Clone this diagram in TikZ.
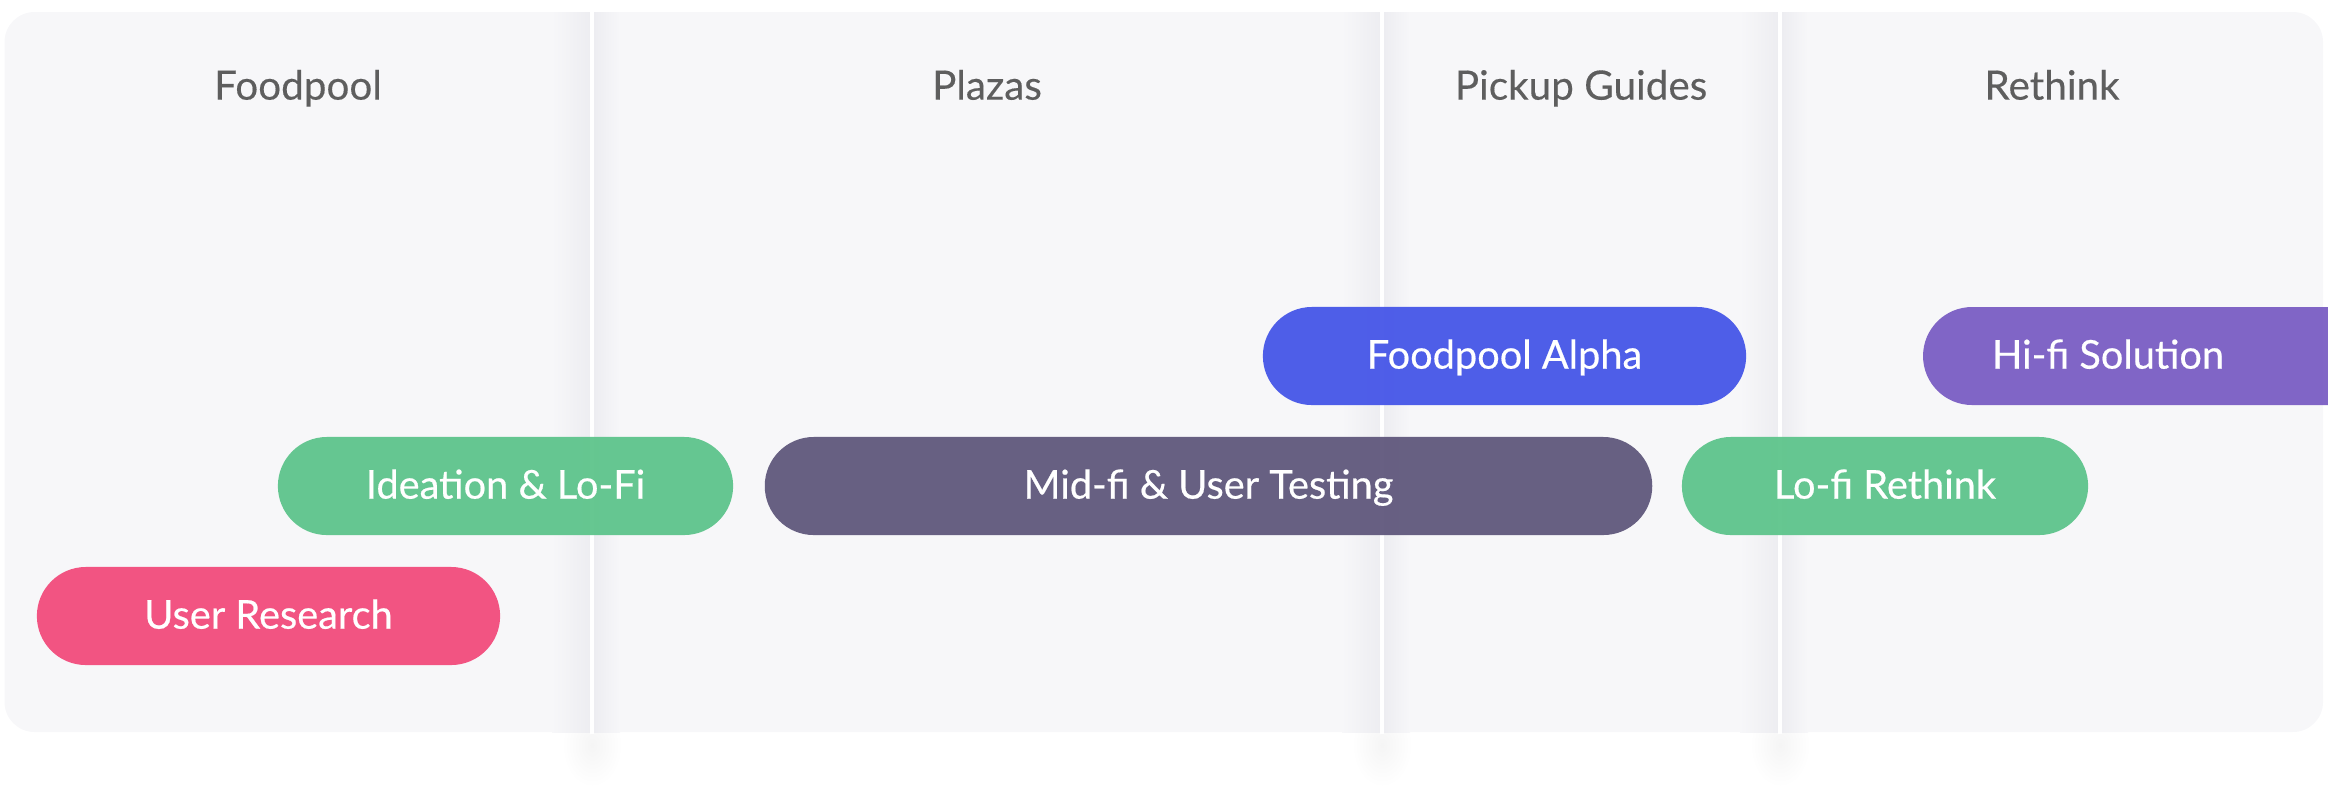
\documentclass[tikz,border=0pt]{standalone}
\usepackage{fontspec}
\setmainfont{Lato}
\newfontfamily\phasefont{Lato}[FakeBold=0.45]
\newfontfamily\headfont{Lato}[FakeBold=0.3]
\definecolor{panelbg}{HTML}{F7F7F9}
\definecolor{colshade}{HTML}{EDEDF1}
\definecolor{headgray}{HTML}{5E5E5E}
\definecolor{alphablue}{HTML}{4858E8}
\definecolor{hifipurple}{HTML}{7C60C4}
\definecolor{lofigreen}{HTML}{60C58D}
\definecolor{midfigray}{HTML}{625A7E}
\definecolor{researchpink}{HTML}{F24E7E}
\tikzset{
    colhead/.style={text=headgray, font=\headfont\fontsize{11.5}{14}\selectfont,
        text height=1.42ex, text depth=0pt, inner sep=0pt},
    phase/.style={rounded corners=0.49cm, minimum height=0.98cm, inner sep=0pt,
        text=white, font=\phasefont\fontsize{11.3}{14}\selectfont,
        text height=1.42ex, text depth=0pt, fill opacity=0.96, text opacity=1},
}
\begin{document}
\begin{tikzpicture}[x=0.01cm,y=-0.01cm]
    \useasboundingbox (0,0) rectangle (2328,808);
    % soft shadows under the column seams
    \foreach \dx in {592,1382,1780}
        \shade[inner color=black!4, outer color=white] (\dx,745) ellipse [x radius=0.3cm, y radius=0.42cm];
    \fill[panelbg, rounded corners=0.3cm] (4.5,12) rectangle (2323,732);
    \foreach \dx in {592,1382,1780} {
        \shade[left color=panelbg, right color=colshade] (\dx-40,12) rectangle (\dx-2,732);
        \shade[left color=colshade, right color=panelbg] (\dx+2,12) rectangle (\dx+28,732);
        \draw[white, line width=0.04cm] (\dx,12) -- (\dx,734);
    }
    % column titles
    \node[colhead] (hfood) at (298,87) {Foodpool};
    \node[colhead] (hplaza) at (987,87) {Plazas};
    \node[colhead] (hpickup) at (1581,87) {Pickup Guides};
    \node[colhead] (hrethink) at (2052,87) {Rethink};
    % phases
    \node[phase, fill=alphablue, minimum width=4.83cm] (alpha) at (1504.5,356) {Foodpool Alpha};
    \fill[hifipurple, fill opacity=0.96, rounded corners=0.49cm] (1923,307) rectangle (2400,405);
    \node[phase] (hifi) at (2108,356) {Hi-fi Solution};
    \node[phase, fill=lofigreen, minimum width=4.55cm] (ideation) at (505.5,486) {Ideation \& Lo-Fi};
    \node[phase, fill=midfigray, minimum width=8.87cm] (midfi) at (1208.5,486) {Mid-fi \& User Testing};
    \node[phase, fill=lofigreen, minimum width=4.06cm] (lofi) at (1885,486) {Lo-fi Rethink};
    \node[phase, fill=researchpink, minimum width=4.63cm] (research) at (268.5,616) {User Research};
\end{tikzpicture}
\end{document}
